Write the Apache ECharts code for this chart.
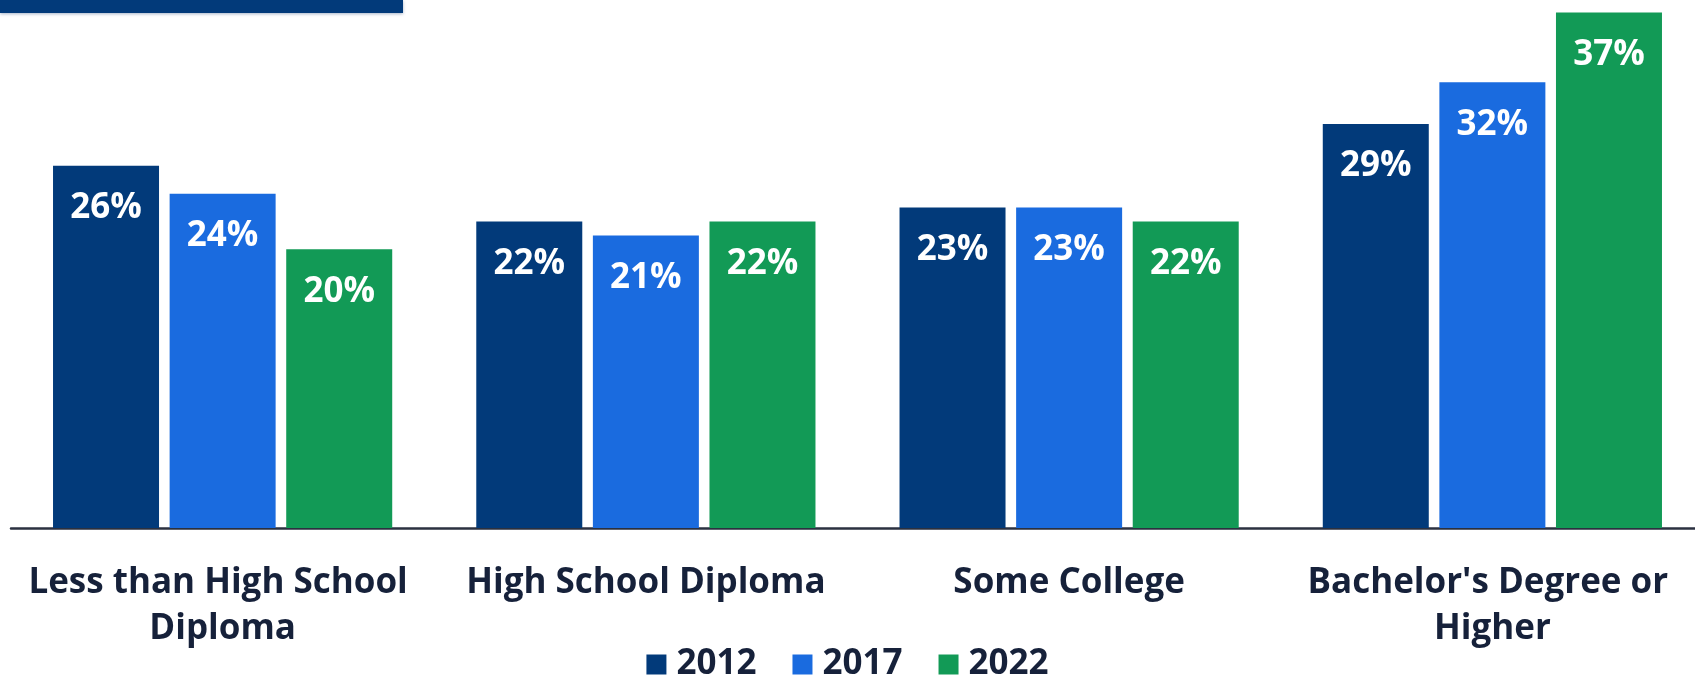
<!DOCTYPE html>
<html>
<head>
<meta charset="utf-8">
<script src="https://cdn.jsdelivr.net/npm/echarts@6/dist/echarts.min.js"></script>
<style>
  html, body { margin: 0; padding: 0; background: #ffffff; }
  #chart { width: 1695px; height: 679px; }
</style>
</head>
<body>
<div id="chart"></div>
<script>
// Educational attainment shares by year
const categories = [
  'Less than High School Diploma',
  'High School Diploma',
  'Some College',
  "Bachelor's Degree or Higher"
];
const years = ['2012', '2017', '2022'];
const values2012 = [26, 22, 23, 29];
const values2017 = [24, 21, 23, 32];
const values2022 = [20, 22, 22, 37];

const colors = ['#023a7a', '#1a6bdf', '#129a56'];
const textDark = '#16213a';
const fontFamily = "'Open Sans', 'Noto Sans', sans-serif";

const chart = echarts.init(document.getElementById('chart'));

function makeSeries(name, data, color) {
  return {
    name: name,
    type: 'bar',
    data: data,
    barWidth: 106,
    barGap: '10%',
    itemStyle: { color: color },
    label: {
      show: true,
      position: 'insideTop',
      distance: 25,
      formatter: '{c}%',
      color: '#ffffff',
      fontFamily: fontFamily,
      fontWeight: 'bold',
      fontSize: 35
    }
  };
}

chart.setOption({
  animation: false,
  backgroundColor: '#ffffff',
  color: colors,
  graphic: [{
    type: 'rect',
    shape: { x: 0, y: 0, width: 403, height: 13 },
    style: { fill: '#023a7a', shadowBlur: 3, shadowColor: 'rgba(0,40,100,0.35)', shadowOffsetY: 1 }
  }],
  legend: {
    top: 642,
    left: 'center',
    itemWidth: 20,
    itemHeight: 20,
    itemGap: 36,
    icon: 'rect',
    textStyle: {
      color: textDark,
      fontFamily: fontFamily,
      fontWeight: 'bold',
      fontSize: 35,
      padding: [0, 0, 0, 5]
    },
    data: years
  },
  grid: {
    left: 11,
    right: -9,
    top: 0,
    bottom: 151,
    containLabel: false,
    outerBoundsMode: 'none'
  },
  xAxis: {
    type: 'category',
    data: categories,
    axisTick: { show: false },
    axisLine: { show: true, lineStyle: { color: '#2b3140', width: 2.5 } },
    axisLabel: {
      interval: 0,
      margin: 32,
      width: 410,
      overflow: 'break',
      lineHeight: 46,
      color: textDark,
      fontFamily: fontFamily,
      fontWeight: 'bold',
      fontSize: 35
    }
  },
  yAxis: {
    type: 'value',
    min: 0,
    max: 37.9,
    show: false,
    splitLine: { show: false }
  },
  series: [
    makeSeries(years[0], values2012, colors[0]),
    makeSeries(years[1], values2017, colors[1]),
    makeSeries(years[2], values2022, colors[2])
  ]
});
</script>
</body>
</html>
